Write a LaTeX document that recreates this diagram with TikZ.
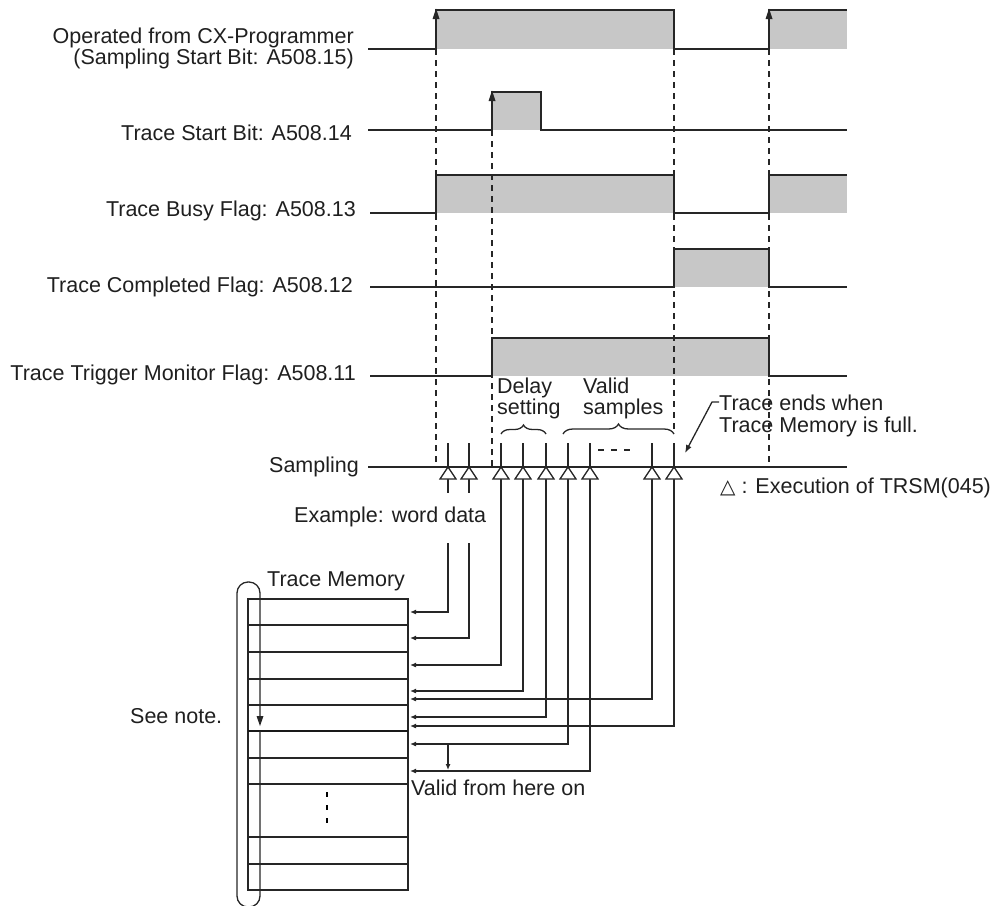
\documentclass[tikz,border=0pt]{standalone}
\usepackage{fontspec}
\setmainfont{Liberation Sans}
\newfontfamily\symfont{DejaVu Sans}
\usetikzlibrary{arrows.meta,decorations.pathreplacing}
\begin{document}
\begin{tikzpicture}[x=1pt,y=-1pt,
  lbl/.style={inner sep=0pt, font=\fontsize{21.5}{21}\selectfont, text=black!88},
  sig/.style={line width=1.5pt, line join=miter, black!85},
  hi/.style={fill=black!22, draw=none},
  guide/.style={line width=1.2pt, dash pattern=on 6pt off 5pt, black!85},
  wire/.style={line width=1.3pt, black!85},
  tip/.style={-{Latex[length=6pt,width=5pt]}},
  samp/.style={line width=1.3pt, fill=white, draw=black!85},
  head/.style={fill=black!85, draw=none},
]
\useasboundingbox (0,0) rectangle (1001,905);

% high-level fills
\fill[hi] (436,10) rectangle (674,49);
\fill[hi] (769,10) rectangle (847,49);
\fill[hi] (492,92) rectangle (541,130);
\fill[hi] (436,175) rectangle (674,213);
\fill[hi] (769,175) rectangle (847,213);
\fill[hi] (674,249) rectangle (769,287);
\fill[hi] (492,338) rectangle (769,376);

% dashed guides
\draw[guide] (436,49) -- (436,467);
\draw[guide] (492,130) -- (492,467);
\draw[guide] (674,49) -- (674,430);
\draw[guide] (769,49) -- (769,467);

% signals
\draw[sig] (368,49) -- (436,49) -- (436,10) -- (674,10) -- (674,49) -- (769,49) -- (769,10) -- (847,10);
\fill[head] (436,8.5) -- (432.5,19) -- (439.5,19) -- cycle;
\fill[head] (769,8.5) -- (765.5,19) -- (772.5,19) -- cycle;
\draw[sig] (368,130) -- (492,130) -- (492,92) -- (541,92) -- (541,130) -- (847,130);
\fill[head] (492,90.5) -- (488.5,101) -- (495.5,101) -- cycle;
\draw[sig] (370,213) -- (436,213) -- (436,175) -- (674,175) -- (674,213) -- (769,213) -- (769,175) -- (847,175);
\draw[sig] (370,287) -- (674,287) -- (674,249) -- (769,249) -- (769,287) -- (847,287);
\draw[sig] (370,376) -- (492,376) -- (492,338) -- (769,338) -- (769,376) -- (847,376);
\draw[sig] (368,467) -- (847,467);

% labels (base anchor = baseline of the last line)
\node[lbl, anchor=base east, align=right] (l1) at (354,64) {Operated from CX-Programmer\\(Sampling Start Bit: A508.15)};
\node[lbl, anchor=base east] (l2) at (352,140) {Trace Start Bit: A508.14};
\node[lbl, anchor=base east] (l3) at (356,216) {Trace Busy Flag: A508.13};
\node[lbl, anchor=base east] (l4) at (353,292) {Trace Completed Flag: A508.12};
\node[lbl, anchor=base east] (l5) at (356,380) {Trace Trigger Monitor Flag: A508.11};
\node[lbl, anchor=base east] (ls) at (359,472) {Sampling};
\node[lbl, anchor=base west, align=left] (dl) at (497,414) {Delay\\setting};
\node[lbl, anchor=base west, align=left] (vs) at (583,414) {Valid\\samples};
\node[lbl, anchor=base west, align=left, font=\fontsize{21.5}{22}\selectfont] (te) at (719,432) {Trace ends when\\Trace Memory is full.};
\node[lbl, anchor=base west] (leg) at (720,493) {{\symfont\fontsize{20}{20}\selectfont △} : Execution of TRSM(045)};
\node[lbl, anchor=base west] (ex) at (294,522) {Example: word data};
\node[lbl, anchor=base west] (tm) at (267,586) {Trace Memory};
\node[lbl, anchor=base west] (vf) at (411,795) {Valid from here on};
\node[lbl, anchor=base west] (sn) at (130,723) {See note.};

% braces and marks
\draw[wire, decorate, decoration={brace, amplitude=9pt}] (501,434) -- (546,434);
\draw[wire, decorate, decoration={brace, amplitude=10pt}] (563,434) -- (674,434);
\draw[wire, dash pattern=on 6pt off 7pt] (598,450) -- (637,450);
\coordinate (ldA) at (719,402);
\coordinate (ldB) at (712,402);
\coordinate (ldC) at (685,453);
\draw[wire, -{Latex[length=8pt,width=6pt]}] (ldA) -- (ldB) -- (ldC);

% trace memory
\draw[wire] (248,599) rectangle (408,890);
\foreach \y in {625,652,679,705,758,784,837,864}
  \draw[wire] (248,\y) -- (408,\y);
\draw[line width=1.8pt, black!90] (248,731) -- (408,731);
\draw[line width=1.2pt, dash pattern=on 5pt off 8pt] (327,792) -- (327,830);
\draw[wire, rounded corners=11pt] (260,731) -- (260,907) -- (237,907) -- (237,582) -- (260,582) -- (260,718);
\fill[head] (260,726) -- (256.5,716) -- (263.5,716) -- cycle;

% sampling points and wires to memory
\foreach \i/\x/\y in {1/448/612, 2/469/638, 3/501/665, 4/523/691, 5/546/717, 6/568/744, 7/590/771, 8/652/699, 9/674/726} {
  \coordinate (t\i) at (\x,443);
  \coordinate (s\i) at (\x,479);
  \coordinate (m\i) at (410,\y);
  \draw[wire] (t\i) -- (\x,467);
}
\draw[wire] (s1) -- (448,493);
\draw[wire] (s2) -- (469,493);
\coordinate (g1) at (448,543);
\coordinate (g2) at (469,543);
\draw[wire, tip] (g1) |- (m1);
\draw[wire, tip] (g2) |- (m2);
\foreach \i in {3,...,9}
  \draw[wire, tip] (s\i) |- (m\i);
\foreach \x in {448,469,501,523,546,568,590,652,674}
  \draw[samp] (\x,467) -- (\x-8,479) -- (\x+8,479) -- cycle;
\coordinate (va) at (448,744);
\coordinate (vb) at (448,770);
\draw[wire, tip] (va) -- (vb);
\end{tikzpicture}
\end{document}
